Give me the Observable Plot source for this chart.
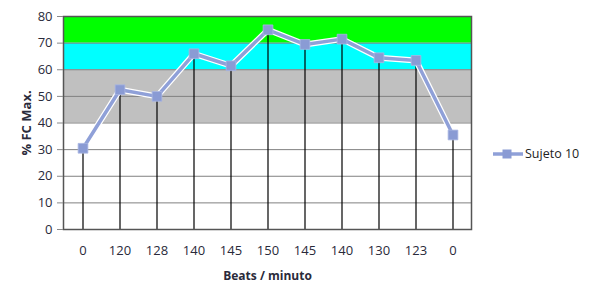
<!DOCTYPE html>
<html><head><meta charset="utf-8">
<script src="https://cdn.jsdelivr.net/npm/d3@7"></script>
<script src="https://cdn.jsdelivr.net/npm/@observablehq/plot@0.6"></script>
<style>
body{margin:0;background:#fff;font-family:"Open Sans",sans-serif;}
#wrap{position:relative;width:591px;height:287px;}
g[aria-label="x-axis label"] text{font-weight:bold;font-size:12px;}
g[aria-label="y-axis label"] text{font-weight:bold;font-size:13px;}
#legend{position:absolute;left:492px;top:145px;font:12.5px "Open Sans",sans-serif;color:#222;display:flex;align-items:center;}
</style></head><body>
<div id="wrap"></div>
<script>
const categories = ["0","120","128","140","145","150","145","140","130","123","0"];
const values = [30.5, 52.5, 50, 66, 61.5, 75, 69.5, 71.5, 64.5, 63.5, 35.5];
const zoneLow = [40, 60, 70];
const zoneHigh = [60, 70, 80];
const zoneColors = ["#c0c0c0", "#00ffff", "#00ff00"];
const yTicks = [0,10,20,30,40,50,60,70,80];
const seriesName = "Sujeto 10";

const data = values.map((v,i)=>({i, v}));
const zones = zoneLow.map((l,k)=>({y1:l, y2:zoneHigh[k], c:zoneColors[k]}));

const chart = Plot.plot({
  width:591, height:287,
  marginLeft:63, marginRight:120, marginTop:16, marginBottom:58,
  style:{fontFamily:'"Open Sans",sans-serif', fontSize:"13px", color:"#2a2a3a"},
  x:{type:"band", domain:d3.range(categories.length), padding:0},
  y:{domain:[0,80]},
  marks:[
    Plot.rect(zones, {y1:"y1", y2:"y2", fill:"c"}),
    Plot.gridY(yTicks, {stroke:"#808080", strokeOpacity:1, strokeWidth:1}),
    Plot.ruleX(data, {x:"i", y1:0, y2:"v", stroke:"black", strokeWidth:1.2}),
    Plot.line(data, {x:"i", y:"v", stroke:"#ffffff", strokeWidth:6}),
    Plot.line(data, {x:"i", y:"v", stroke:"#8fa0d8", strokeWidth:3.5}),
    Plot.dot(data, {x:"i", y:"v", symbol:"square", r:5.5, fill:"#8a9bd4", stroke:"#a9b6e2", strokeWidth:0.8}),
    Plot.frame({stroke:"#555", strokeWidth:1.5}),
    Plot.axisY({ticks:yTicks, tickSize:6, tickPadding:5, stroke:"#888", label:"% FC Max.", labelAnchor:"center", labelArrow:"none", labelOffset:42}),
    Plot.axisX({tickSize:0, tickPadding:16, tickFormat:(d)=>categories[d], label:"Beats / minuto", labelAnchor:"center", labelArrow:"none", labelOffset:50})
  ]
});
document.getElementById("wrap").appendChild(chart);

const leg = document.createElement("div");
leg.id = "legend";
leg.innerHTML = `<svg width="32" height="14"><line x1="1" y1="7" x2="31" y2="7" stroke="#8fa0d8" stroke-width="3.5"/><rect x="10.5" y="2.5" width="9" height="9" fill="#8a9bd4"/></svg><span style="margin-left:1px">${seriesName}</span>`;
document.getElementById("wrap").appendChild(leg);
</script>
</body></html>
